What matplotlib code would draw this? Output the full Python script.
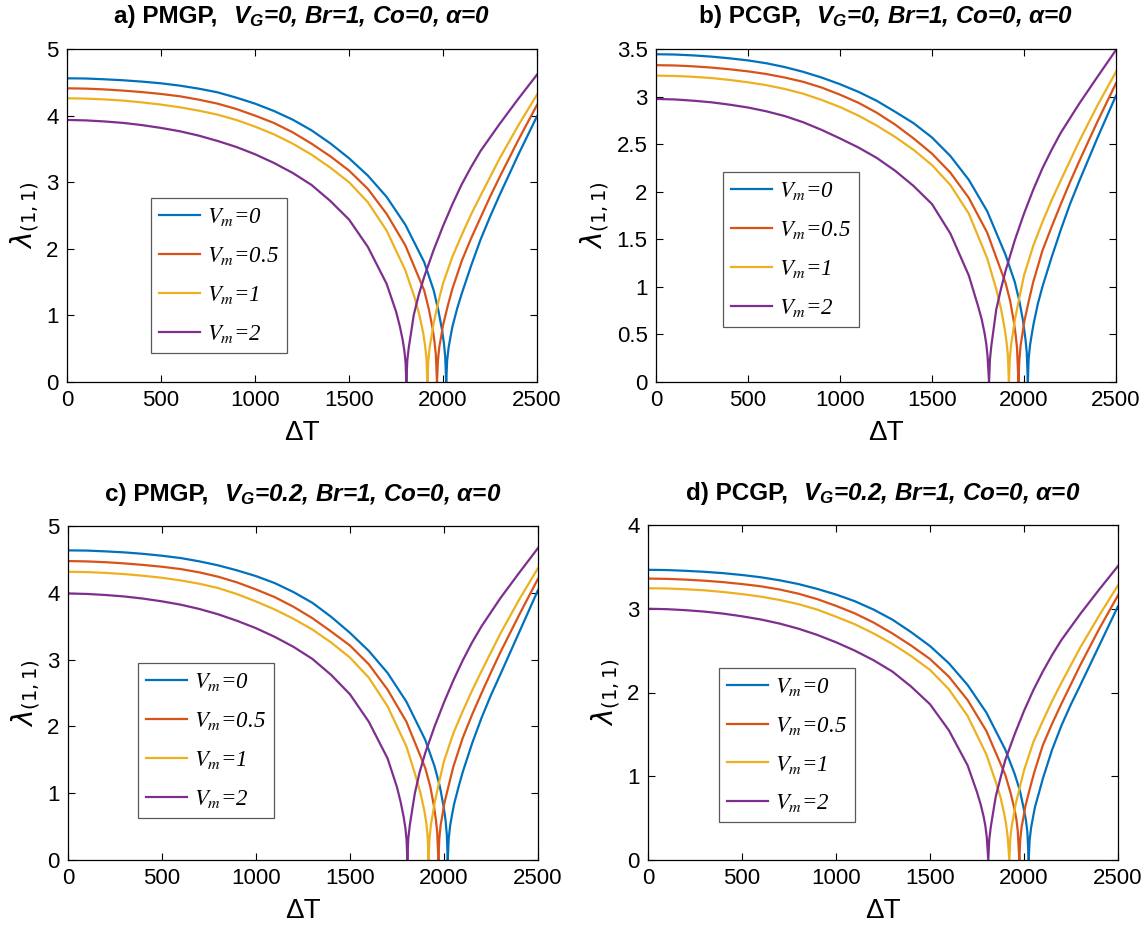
import matplotlib.pyplot as plt
import numpy as np
from matplotlib.font_manager import FontProperties

# Fundamental frequency lambda_(1,1) against temperature rise, (dT, lambda) pairs
# a) PMGP, V_G = 0
a_vm0 = [(0, 4.56), (100, 4.557), (200, 4.545), (300, 4.53), (400, 4.51), (500, 4.485),
         (600, 4.45), (700, 4.405), (800, 4.35), (900, 4.27), (1000, 4.18), (1100, 4.07),
         (1200, 3.94), (1300, 3.78), (1400, 3.585), (1500, 3.36), (1600, 3.10), (1700, 2.78),
         (1800, 2.36), (1900, 1.80), (1950, 1.38), (1975, 1.08), (1995, 0.78), (2005, 0.58),
         (2012, 0.37), (2017, 0.0), (2022, 0.32), (2030, 0.52), (2040, 0.68), (2050, 0.83),
         (2075, 1.10), (2100, 1.33), (2150, 1.75), (2200, 2.14), (2250, 2.48), (2300, 2.80),
         (2400, 3.41), (2500, 3.99)]
a_vm05 = [(0, 4.41), (100, 4.405), (200, 4.393), (300, 4.375), (400, 4.353), (500, 4.325),
          (600, 4.29), (700, 4.24), (800, 4.18), (900, 4.10), (1000, 4.00), (1100, 3.89),
          (1200, 3.75), (1300, 3.58), (1400, 3.39), (1500, 3.175), (1600, 2.90), (1700, 2.525),
          (1800, 2.05), (1900, 1.375), (1925, 1.09), (1945, 0.80), (1955, 0.60), (1962, 0.41),
          (1968, 0.0), (1973, 0.32), (1980, 0.52), (1990, 0.68), (2000, 0.85), (2025, 1.14),
          (2050, 1.40), (2100, 1.82), (2150, 2.16), (2200, 2.47), (2250, 2.78), (2300, 3.07),
          (2400, 3.63), (2500, 4.16)]
a_vm1 = [(0, 4.26), (100, 4.255), (200, 4.243), (300, 4.225), (400, 4.198), (500, 4.165),
         (600, 4.125), (700, 4.075), (800, 4.015), (900, 3.935), (1000, 3.835), (1100, 3.72),
         (1200, 3.58), (1300, 3.415), (1400, 3.22), (1500, 3.00), (1600, 2.70), (1700, 2.275),
         (1800, 1.675), (1850, 1.26), (1875, 1.00), (1895, 0.73), (1905, 0.54), (1912, 0.35),
         (1917, 0.0), (1922, 0.33), (1930, 0.54), (1940, 0.70), (1950, 0.88), (1975, 1.20),
         (2000, 1.48), (2050, 1.88), (2100, 2.21), (2150, 2.52), (2200, 2.80), (2300, 3.35),
         (2400, 3.85), (2500, 4.315)]
a_vm2 = [(0, 3.935), (100, 3.928), (200, 3.912), (300, 3.89), (400, 3.857), (500, 3.815),
         (600, 3.765), (700, 3.70), (800, 3.62), (900, 3.53), (1000, 3.42), (1100, 3.29),
         (1200, 3.14), (1300, 2.96), (1400, 2.72), (1500, 2.44), (1600, 2.03), (1700, 1.475),
         (1750, 1.06), (1770, 0.84), (1785, 0.64), (1795, 0.46), (1801, 0.29), (1805, 0.0),
         (1810, 0.32), (1818, 0.52), (1828, 0.70), (1844, 1.00), (1870, 1.30), (1900, 1.58),
         (1950, 1.98), (2000, 2.34), (2050, 2.67), (2100, 2.97), (2150, 3.23), (2200, 3.47),
         (2300, 3.87), (2400, 4.25), (2500, 4.615)]

# b) PCGP, V_G = 0
b_vm0 = [(0, 3.445), (100, 3.442), (200, 3.433), (300, 3.42), (400, 3.402), (500, 3.38),
         (600, 3.35), (700, 3.31), (800, 3.26), (900, 3.20), (1000, 3.13), (1100, 3.05),
         (1200, 2.955), (1300, 2.84), (1400, 2.72), (1500, 2.57), (1600, 2.375), (1700, 2.125),
         (1800, 1.795), (1900, 1.335), (1950, 1.05), (1975, 0.85), (1995, 0.64), (2008, 0.45),
         (2015, 0.31), (2021, 0.0), (2025, 0.24), (2033, 0.39), (2043, 0.51), (2053, 0.62),
         (2075, 0.82), (2100, 1.00), (2150, 1.31), (2200, 1.60), (2250, 1.87), (2300, 2.11),
         (2400, 2.57), (2500, 3.01)]
b_vm05 = [(0, 3.33), (100, 3.327), (200, 3.318), (300, 3.305), (400, 3.287), (500, 3.265),
          (600, 3.237), (700, 3.20), (800, 3.155), (900, 3.095), (1000, 3.02), (1100, 2.935),
          (1200, 2.83), (1300, 2.705), (1400, 2.56), (1500, 2.40), (1600, 2.20), (1700, 1.935),
          (1800, 1.57), (1900, 1.04), (1925, 0.85), (1945, 0.63), (1955, 0.49), (1962, 0.36),
          (1970, 0.0), (1975, 0.24), (1982, 0.39), (1992, 0.51), (2002, 0.64), (2027, 0.86),
          (2050, 1.05), (2100, 1.38), (2150, 1.63), (2200, 1.87), (2250, 2.10), (2300, 2.32),
          (2400, 2.74), (2500, 3.14)]
b_vm1 = [(0, 3.22), (100, 3.217), (200, 3.208), (300, 3.195), (400, 3.175), (500, 3.15),
         (600, 3.12), (700, 3.08), (800, 3.03), (900, 2.965), (1000, 2.89), (1100, 2.80),
         (1200, 2.695), (1300, 2.575), (1400, 2.44), (1500, 2.28), (1600, 2.07), (1700, 1.77),
         (1800, 1.30), (1850, 0.97), (1875, 0.77), (1895, 0.56), (1905, 0.42), (1912, 0.29),
         (1918, 0.0), (1923, 0.25), (1931, 0.41), (1941, 0.53), (1951, 0.66), (1975, 0.89),
         (2000, 1.12), (2050, 1.43), (2100, 1.68), (2150, 1.91), (2200, 2.12), (2300, 2.53),
         (2400, 2.91), (2500, 3.26)]
b_vm2 = [(0, 2.975), (100, 2.97), (200, 2.957), (300, 2.94), (400, 2.915), (500, 2.885),
         (600, 2.845), (700, 2.795), (800, 2.73), (900, 2.65), (1000, 2.56), (1100, 2.465),
         (1200, 2.355), (1300, 2.22), (1400, 2.06), (1500, 1.87), (1600, 1.56), (1700, 1.12),
         (1750, 0.80), (1770, 0.66), (1785, 0.52), (1795, 0.40), (1802, 0.27), (1810, 0.0),
         (1815, 0.24), (1823, 0.39), (1833, 0.53), (1849, 0.76), (1875, 0.98), (1900, 1.17),
         (1950, 1.49), (2000, 1.77), (2050, 2.02), (2100, 2.245), (2150, 2.44), (2200, 2.62),
         (2300, 2.925), (2400, 3.21), (2500, 3.49)]

# c) PMGP, V_G = 0.2
c_vm0 = [(0, 4.635), (100, 4.632), (200, 4.62), (300, 4.605), (400, 4.583), (500, 4.555),
         (600, 4.52), (700, 4.47), (800, 4.41), (900, 4.335), (1000, 4.25), (1100, 4.145),
         (1200, 4.01), (1300, 3.85), (1400, 3.64), (1500, 3.40), (1600, 3.13), (1700, 2.80),
         (1800, 2.37), (1900, 1.80), (1950, 1.40), (1978, 1.10), (1998, 0.80), (2008, 0.60),
         (2015, 0.38), (2020, 0.0), (2025, 0.32), (2033, 0.52), (2043, 0.68), (2053, 0.83),
         (2078, 1.10), (2100, 1.32), (2150, 1.75), (2200, 2.13), (2250, 2.47), (2300, 2.78),
         (2400, 3.41), (2500, 4.04)]
c_vm05 = [(0, 4.475), (100, 4.47), (200, 4.458), (300, 4.44), (400, 4.417), (500, 4.39),
          (600, 4.355), (700, 4.305), (800, 4.24), (900, 4.155), (1000, 4.05), (1100, 3.935),
          (1200, 3.79), (1300, 3.62), (1400, 3.42), (1500, 3.21), (1600, 2.93), (1700, 2.55),
          (1800, 2.07), (1900, 1.38), (1927, 1.10), (1947, 0.80), (1957, 0.60), (1964, 0.41),
          (1970, 0.0), (1975, 0.32), (1982, 0.52), (1992, 0.68), (2002, 0.85), (2027, 1.14),
          (2050, 1.40), (2100, 1.83), (2150, 2.18), (2200, 2.50), (2250, 2.81), (2300, 3.11),
          (2400, 3.67), (2500, 4.21)]
c_vm1 = [(0, 4.315), (100, 4.31), (200, 4.298), (300, 4.28), (400, 4.255), (500, 4.225),
         (600, 4.185), (700, 4.135), (800, 4.07), (900, 3.98), (1000, 3.87), (1100, 3.75),
         (1200, 3.61), (1300, 3.45), (1400, 3.255), (1500, 3.03), (1600, 2.73), (1700, 2.30),
         (1800, 1.70), (1850, 1.25), (1876, 0.99), (1896, 0.73), (1906, 0.55), (1913, 0.35),
         (1918, 0.0), (1923, 0.33), (1931, 0.54), (1941, 0.70), (1951, 0.87), (1976, 1.19),
         (2000, 1.48), (2050, 1.90), (2100, 2.23), (2150, 2.54), (2200, 2.83), (2300, 3.39),
         (2400, 3.90), (2500, 4.37)]
c_vm2 = [(0, 3.99), (100, 3.983), (200, 3.967), (300, 3.945), (400, 3.913), (500, 3.872),
         (600, 3.822), (700, 3.757), (800, 3.677), (900, 3.58), (1000, 3.47), (1100, 3.34),
         (1200, 3.19), (1300, 3.01), (1400, 2.77), (1500, 2.48), (1600, 2.07), (1700, 1.52),
         (1750, 1.09), (1770, 0.86), (1785, 0.65), (1795, 0.47), (1801, 0.30), (1805, 0.0),
         (1810, 0.32), (1818, 0.52), (1828, 0.70), (1845, 1.00), (1870, 1.31), (1900, 1.60),
         (1950, 2.00), (2000, 2.36), (2050, 2.69), (2100, 2.99), (2150, 3.26), (2200, 3.50),
         (2300, 3.92), (2400, 4.30), (2500, 4.67)]

# d) PCGP, V_G = 0.2
d_vm0 = [(0, 3.465), (100, 3.462), (200, 3.453), (300, 3.441), (400, 3.425), (500, 3.403),
         (600, 3.376), (700, 3.34), (800, 3.295), (900, 3.237), (1000, 3.17), (1100, 3.09),
         (1200, 2.99), (1300, 2.87), (1400, 2.72), (1500, 2.555), (1600, 2.35), (1700, 2.09),
         (1800, 1.76), (1900, 1.32), (1950, 1.03), (1978, 0.83), (1998, 0.62), (2010, 0.48),
         (2018, 0.33), (2025, 0.0), (2030, 0.24), (2038, 0.39), (2048, 0.51), (2058, 0.63),
         (2083, 0.83), (2100, 0.97), (2150, 1.32), (2200, 1.61), (2250, 1.86), (2300, 2.09),
         (2400, 2.56), (2500, 3.03)]
d_vm05 = [(0, 3.36), (100, 3.357), (200, 3.348), (300, 3.335), (400, 3.318), (500, 3.295),
          (600, 3.268), (700, 3.23), (800, 3.18), (900, 3.115), (1000, 3.035), (1100, 2.945),
          (1200, 2.835), (1300, 2.705), (1400, 2.56), (1500, 2.40), (1600, 2.19), (1700, 1.91),
          (1800, 1.54), (1900, 1.02), (1930, 0.79), (1950, 0.60), (1960, 0.48), (1967, 0.34),
          (1975, 0.0), (1980, 0.24), (1987, 0.39), (1997, 0.51), (2007, 0.64), (2032, 0.86),
          (2055, 1.05), (2100, 1.37), (2150, 1.63), (2200, 1.87), (2250, 2.10), (2300, 2.33),
          (2400, 2.76), (2500, 3.16)]
d_vm1 = [(0, 3.245), (100, 3.242), (200, 3.233), (300, 3.22), (400, 3.20), (500, 3.175),
         (600, 3.145), (700, 3.105), (800, 3.055), (900, 2.99), (1000, 2.905), (1100, 2.815),
         (1200, 2.705), (1300, 2.58), (1400, 2.435), (1500, 2.27), (1600, 2.04), (1700, 1.72),
         (1800, 1.26), (1850, 0.93), (1875, 0.75), (1895, 0.55), (1905, 0.42), (1913, 0.28),
         (1922, 0.0), (1927, 0.25), (1935, 0.41), (1945, 0.53), (1955, 0.66), (1980, 0.89),
         (2000, 1.07), (2050, 1.41), (2100, 1.66), (2150, 1.90), (2200, 2.12), (2300, 2.54),
         (2400, 2.92), (2500, 3.28)]
d_vm2 = [(0, 3.00), (100, 2.995), (200, 2.983), (300, 2.966), (400, 2.942), (500, 2.91),
         (600, 2.872), (700, 2.823), (800, 2.762), (900, 2.688), (1000, 2.60), (1100, 2.50),
         (1200, 2.385), (1300, 2.25), (1400, 2.07), (1500, 1.86), (1600, 1.55), (1700, 1.13),
         (1750, 0.81), (1770, 0.66), (1785, 0.52), (1795, 0.40), (1802, 0.27), (1810, 0.0),
         (1815, 0.24), (1823, 0.39), (1833, 0.53), (1850, 0.76), (1875, 0.98), (1900, 1.19),
         (1950, 1.50), (2000, 1.78), (2050, 2.03), (2100, 2.25), (2150, 2.45), (2200, 2.63),
         (2300, 2.94), (2400, 3.23), (2500, 3.51)]

VM_VALUES = ["0", "0.5", "1", "2"]
COLORS = ["#0072BD", "#D95319", "#EDB120", "#7E2F8E"]

TITLE_HEADS = ["a) PMGP,", "b) PCGP,", "c) PMGP,", "d) PCGP,"]
TITLE_TAILS = [
    "$V_G$=0, Br=1, Co=0, \u03b1=0",
    "$V_G$=0, Br=1, Co=0, \u03b1=0",
    "$V_G$=0.2, Br=1, Co=0, \u03b1=0",
    "$V_G$=0.2, Br=1, Co=0, \u03b1=0",
]
Y_MAX = [5, 3.5, 5, 4]
Y_TICKS = [
    ["0", "1", "2", "3", "4", "5"],
    ["0", "0.5", "1", "1.5", "2", "2.5", "3", "3.5"],
    ["0", "1", "2", "3", "4", "5"],
    ["0", "1", "2", "3", "4"],
]
X_TICKS = [0, 500, 1000, 1500, 2000, 2500]

plt.rcParams["font.family"] = "Liberation Sans"
plt.rcParams["mathtext.fontset"] = "custom"
plt.rcParams["mathtext.rm"] = "Liberation Sans:bold"
plt.rcParams["mathtext.it"] = "Liberation Sans:italic:bold"
plt.rcParams["mathtext.bf"] = "Liberation Sans:bold"


def add_title(ax, head, tail, size=17.5, rise=26):
    """Bold upright head followed by a bold italic tail, centred over the axes."""
    fig = ax.figure
    renderer = fig.canvas.get_renderer()
    box = ax.get_window_extent(renderer)
    y = 1 + rise / box.height
    t1 = ax.text(0, y, head, transform=ax.transAxes, fontsize=size,
                 fontweight="bold", va="baseline", ha="left")
    t2 = ax.text(0, y, tail, transform=ax.transAxes, fontsize=size,
                 fontweight="bold", fontstyle="italic", va="baseline", ha="left")
    w1 = t1.get_window_extent(renderer).width
    w2 = t2.get_window_extent(renderer).width
    gap = 15
    x0 = 0.5 - (w1 + gap + w2) / 2 / box.width
    t1.set_x(x0)
    t2.set_x(x0 + (w1 + gap) / box.width)


def draw_panel(ax, curves, y_max, y_labels, legend_anchor):
    """Plot the four V_m curves of one panel with MATLAB-like styling."""
    for pts, color, vm in zip(curves, COLORS, VM_VALUES):
        dt, lam = zip(*pts)
        ax.plot(dt, lam, color=color, lw=1.6, label="$V_m$=" + vm)

    ax.set_xlim(0, 2500)
    ax.set_ylim(0, y_max)
    ax.set_xticks(X_TICKS)
    ax.set_yticks(np.linspace(0, y_max, len(y_labels)))
    ax.set_yticklabels(y_labels)
    ax.tick_params(direction="in", top=True, right=True, length=5, width=0.8,
                   labelsize=16, pad=6)
    for spine in ax.spines.values():
        spine.set_linewidth(0.9)

    ax.set_xlabel("\u0394T", fontsize=20, labelpad=6)
    ax.set_ylabel(r"$\lambda_{(1,1)}$", fontsize=20, labelpad=4,
                  math_fontfamily="dejavusans")

    leg_font = FontProperties(family="Liberation Serif", style="italic", size=16.5,
                              math_fontfamily="stix")
    leg = ax.legend(loc="lower left", bbox_to_anchor=legend_anchor, prop=leg_font,
                    fancybox=False, edgecolor="0.35", framealpha=1,
                    handlelength=1.8, handletextpad=0.3, labelspacing=0.74,
                    borderpad=0.35, borderaxespad=0)
    leg.get_frame().set_linewidth(0.9)


def main():
    fig = plt.figure(figsize=(11.48, 9.3), dpi=100)
    W, H = 1148, 930

    # axes boxes in pixels: left, top, right, bottom
    boxes = [(67, 49, 537, 382), (656, 49, 1116, 382),
             (68, 526, 538, 860), (648, 525, 1118, 860)]
    curves = [
        [a_vm0, a_vm05, a_vm1, a_vm2],
        [b_vm0, b_vm05, b_vm1, b_vm2],
        [c_vm0, c_vm05, c_vm1, c_vm2],
        [d_vm0, d_vm05, d_vm1, d_vm2],
    ]
    legend_anchors = [(0.178, 0.087), (0.146, 0.166), (0.148, 0.127), (0.151, 0.112)]

    for i, (l, t, r, b) in enumerate(boxes):
        ax = fig.add_axes([l / W, 1 - b / H, (r - l) / W, (b - t) / H])
        draw_panel(ax, curves[i], Y_MAX[i], Y_TICKS[i], legend_anchors[i])
        add_title(ax, TITLE_HEADS[i], TITLE_TAILS[i], rise=26 if i < 2 else 25)

    fig.savefig("out.png", dpi=100, facecolor="white")


if __name__ == "__main__":
    main()
